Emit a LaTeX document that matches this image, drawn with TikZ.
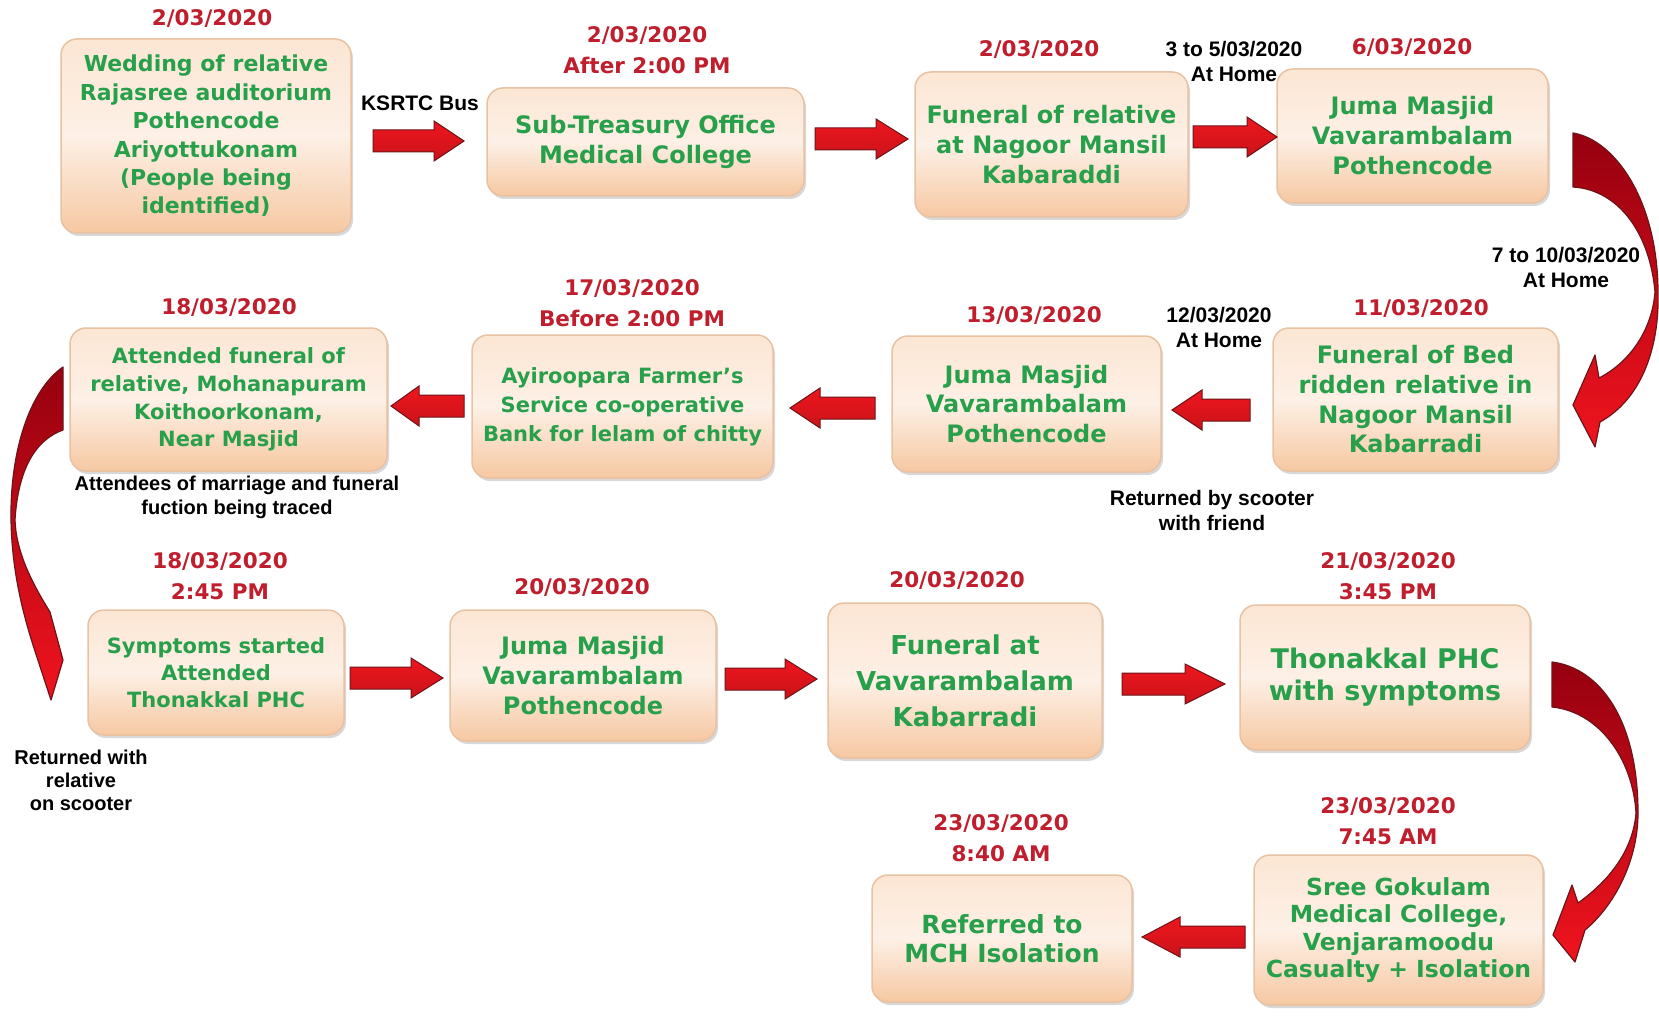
\documentclass[tikz,border=0pt]{standalone}
\usepackage{fontspec}
\usetikzlibrary{shadows}
\newfontfamily\boxfont{DejaVu Sans}
\newfontfamily\lblfont{Liberation Sans}
\definecolor{gtext}{RGB}{40,160,75}
\definecolor{dred}{RGB}{192,30,45}
\definecolor{btop}{RGB}{252,230,212}
\definecolor{bmid}{RGB}{253,240,230}
\definecolor{bbot}{RGB}{246,200,162}
\definecolor{bline}{RGB}{232,194,162}
\definecolor{arrred}{RGB}{238,22,30}
\definecolor{arrdark}{RGB}{110,20,25}
\definecolor{curvtop}{RGB}{150,0,15}
\definecolor{curvbot}{RGB}{240,20,30}
\tikzset{
  box/.style={rounded corners=16pt, top color=btop, bottom color=bbot, middle color=bmid,
    draw=bline, line width=1.5pt, align=center, text=gtext, inner sep=0pt,
    drop shadow={shadow xshift=2pt, shadow yshift=-3pt, fill=black!50, opacity=0.3}},
  fs/.style 2 args={font=\boxfont\bfseries\fontsize{#1}{#2}\selectfont},
  date/.style={text=dred, font=\boxfont\bfseries\fontsize{21.5}{31}\selectfont, align=center, inner sep=0pt},
  lbl/.style={text=black, font=\lblfont\bfseries\fontsize{21}{25}\selectfont, align=center, inner sep=0pt},
  blockarr/.style={top color=arrred, bottom color=arrred!85!black, draw=arrdark, line width=1pt, line join=miter},
  curvarr/.style={top color=curvtop, bottom color=curvbot, draw=arrdark, line width=1.2pt, line join=round}
}
\newcommand\rarr[5]{%
  \draw[blockarr] (#2,#4-11) -- (#3-#5,#4-11) -- (#3-#5,#4-20) -- (#3,#4) -- (#3-#5,#4+20) -- (#3-#5,#4+11) -- (#2,#4+11) -- cycle;
  \coordinate (#1) at (#2/2+#3/2,#4);}
\newcommand\larr[5]{%
  \draw[blockarr] (#2,#4-11) -- (#3+#5,#4-11) -- (#3+#5,#4-20) -- (#3,#4) -- (#3+#5,#4+20) -- (#3+#5,#4+11) -- (#2,#4+11) -- cycle;
  \coordinate (#1) at (#2/2+#3/2,#4);}
\begin{document}
\begin{tikzpicture}[x=1pt,y=-1pt]
\useasboundingbox (0,0) rectangle (1659,1016);
\fill[white] (0,0) rectangle (1659,1016);

% boxes
\node[box, minimum width=290pt, minimum height=194pt, fs={22}{28.4}] (b1) at (206,136) {Wedding of relative\\Rajasree auditorium\\Pothencode\\Ariyottukonam\\(People being\\identified)};
\node[box, minimum width=317pt, minimum height=108pt, fs={24}{30}] (b2) at (645.5,142) {Sub-Treasury Office\\Medical College};
\node[box, minimum width=273pt, minimum height=145pt, fs={24}{29.6}] (b3) at (1051.5,144.5) {Funeral of relative\\at Nagoor Mansil\\Kabaraddi};
\node[box, minimum width=271pt, minimum height=134pt, fs={24}{30}] (b4) at (1412.5,136) {Juma Masjid\\Vavarambalam\\Pothencode};
\node[box, minimum width=285pt, minimum height=143pt, fs={24}{29.7}] (b5) at (1415.5,399.5) {Funeral of Bed\\ridden relative in\\Nagoor Mansil\\Kabarradi};
\node[box, minimum width=269pt, minimum height=136pt, fs={24}{29.6}] (b6) at (1026.5,404) {Juma Masjid\\Vavarambalam\\Pothencode};
\node[box, minimum width=301pt, minimum height=143pt, fs={21}{29}] (b7) at (622.5,406.5) {Ayiroopara Farmer’s\\Service co-operative\\Bank for lelam of chitty};
\node[box, minimum width=317pt, minimum height=143pt, fs={21}{27.8}] (b8) at (228.5,399.5) {Attended funeral of\\relative, Mohanapuram\\Koithoorkonam,\\Near Masjid};
\node[box, minimum width=256pt, minimum height=125pt, fs={21}{27}] (b9) at (216,672.5) {Symptoms started\\Attended\\Thonakkal PHC};
\node[box, minimum width=266pt, minimum height=131pt, fs={24}{30}] (b10) at (583,675.5) {Juma Masjid\\Vavarambalam\\Pothencode};
\node[box, minimum width=274pt, minimum height=155pt, fs={26}{36}] (b11) at (965,680.5) {Funeral at\\Vavarambalam\\Kabarradi};
\node[box, minimum width=290pt, minimum height=145pt, fs={27}{32}] (b12) at (1385,677.5) {Thonakkal PHC\\with symptoms};
\node[box, minimum width=289pt, minimum height=150pt, fs={23.5}{27.3}] (b13) at (1398.5,930) {Sree Gokulam\\Medical College,\\Venjaramoodu\\Casualty + Isolation};
\node[box, minimum width=260pt, minimum height=127pt, fs={25}{28.5}] (b14) at (1002,938.5) {Referred to\\MCH Isolation};

% dates
\node[date] (d1) at (212,19) {2/03/2020};
\node[date] (d2) at (647,50.5) {2/03/2020\\After 2:00 PM};
\node[date] (d3) at (1039,50) {2/03/2020};
\node[date] (d4) at (1412,48) {6/03/2020};
\node[date] (d5) at (1421,309) {11/03/2020};
\node[date] (d6) at (1034,316) {13/03/2020};
\node[date] (d7) at (632,303) {17/03/2020\\Before 2:00 PM};
\node[date] (d8) at (229,308) {18/03/2020};
\node[date] (d9) at (220,576.5) {18/03/2020\\2:45 PM};
\node[date] (d10) at (582,588) {20/03/2020};
\node[date] (d11) at (957,581) {20/03/2020};
\node[date] (d12) at (1388,576) {21/03/2020\\3:45 PM};
\node[date] (d13) at (1388,821) {23/03/2020\\7:45 AM};
\node[date] (d14) at (1001,838) {23/03/2020\\8:40 AM};

% black labels
\node[lbl] (l1) at (420,103) {KSRTC Bus};
\node[lbl] (l2) at (1234,61) {3 to 5/03/2020\\At Home};
\node[lbl] (l3) at (1566,267) {7 to 10/03/2020\\At Home};
\node[lbl] (l4) at (1219,327) {12/03/2020\\At Home};
\node[lbl] (l5) at (1212,510) {Returned by scooter\\with friend};
\node[lbl, font=\lblfont\bfseries\fontsize{20}{24}\selectfont] (l6) at (237,497) {Attendees of marriage and funeral\\fuction being traced};
\node[lbl, font=\lblfont\bfseries\fontsize{20}{23}\selectfont] (l7) at (81,780) {Returned with\\relative\\on scooter};

% straight block arrows
\rarr{a1}{373}{464}{141}{30}
\rarr{a2}{815}{908}{139}{32}
\rarr{a3}{1193}{1277}{137}{30}
\larr{a4}{1250}{1172}{410}{30}
\larr{a5}{875}{790}{408}{30}
\larr{a6}{464}{391}{406}{28}
\rarr{a7}{350}{443}{678}{32}
\rarr{a8}{725}{817}{679}{32}
\rarr{a9}{1122}{1225}{684}{40}
\larr{a10}{1245}{1142}{937}{38}

% curved arrows
\draw[curvarr] (1573,133) .. controls (1615,140) and (1657,200) .. (1658,290)
  .. controls (1660,350) and (1640,400) .. (1600,422) -- (1595,447) -- (1573,405) -- (1595,355) -- (1599,378)
  .. controls (1630,362) and (1652,330) .. (1655,292)
  .. controls (1650,235) and (1620,190) .. (1573,187) -- cycle;
\draw[curvarr] (1552,662) .. controls (1600,668) and (1638,720) .. (1638,813)
  .. controls (1638,860) and (1615,905) .. (1585,930) -- (1575,962) -- (1553,935) -- (1572,885) -- (1578,903)
  .. controls (1610,880) and (1633,850) .. (1636,813)
  .. controls (1633,760) and (1600,712) .. (1552,707) -- cycle;
\draw[curvarr] (63,367) .. controls (30,390) and (10,450) .. (11,520)
  .. controls (12,570) and (22,610) .. (33,645) -- (51,700) -- (63,660) -- (50,612)
  .. controls (30,580) and (16,550) .. (15,520)
  .. controls (18,470) and (35,440) .. (63,430) -- cycle;
\end{tikzpicture}
\end{document}
